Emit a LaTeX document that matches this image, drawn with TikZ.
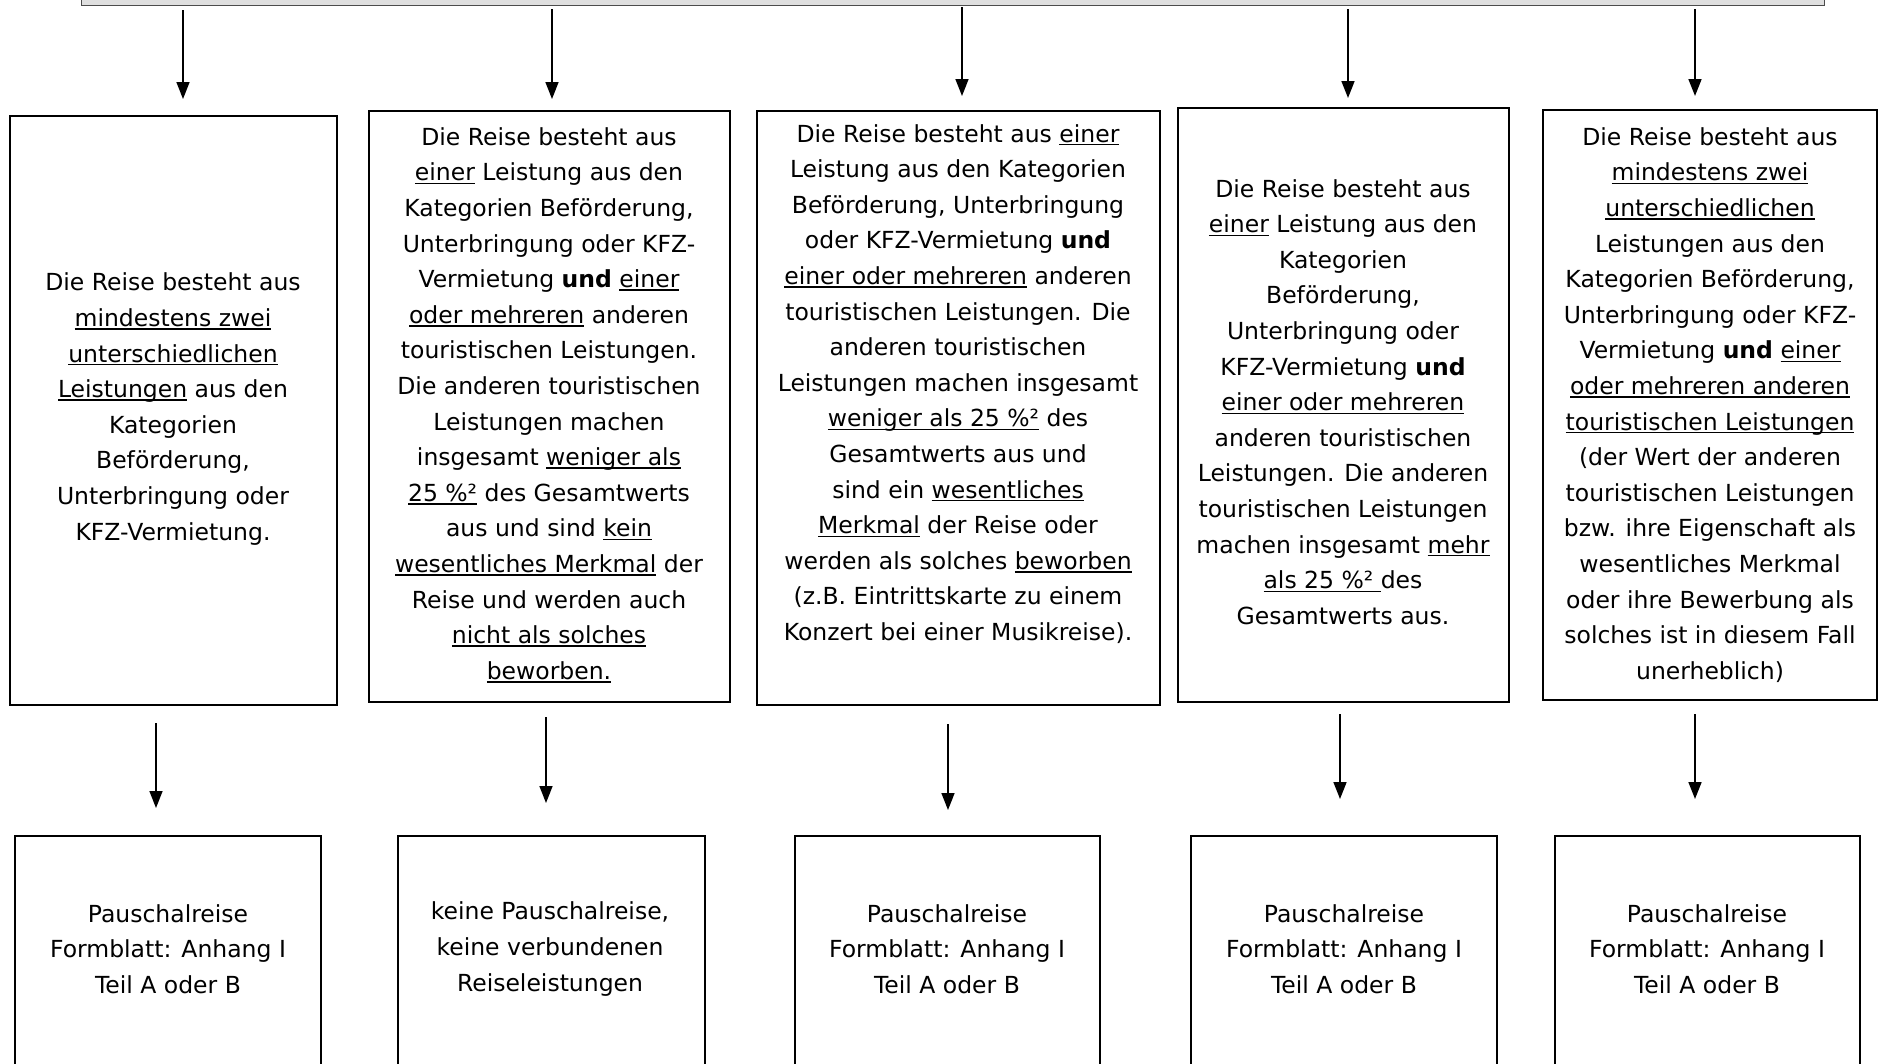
\documentclass[tikz,border=0pt]{standalone}
\usepackage{fontspec}
\setmainfont{DejaVu Sans}
\usetikzlibrary{arrows.meta,calc}
\newcommand\ulx[1]{\sbox0{#1}\rlap{\rule[-0.14em]{\wd0}{0.065em}}\usebox0}
\begin{document}
\begin{tikzpicture}[x=1pt,y=-1pt,
  box/.style={draw, line width=1.6pt, rectangle, inner sep=0pt, outer sep=0pt, anchor=north west},
  txt/.style={align=center, inner sep=0pt, font=\fontsize{23.5}{35.6}\selectfont},
  arr/.style={line width=1.6pt, -{Triangle[width=13pt,length=17pt]}}]
\useasboundingbox (0,0) rectangle (1879,1063);
\clip (0,0) rectangle (1879,1063);
\fill[white] (0,0) rectangle (1879,1063);

% top (cut off) box
\node[draw=black!70, fill=gray!25, line width=1.4pt, minimum width=1743, minimum height=80, inner sep=0pt, anchor=south west] (top) at (81,6) {};

% first row boxes
\node[box, minimum width=327, minimum height=589] (b1) at (10,116) {};
\node[box, minimum width=361, minimum height=591] (b2) at (369,111) {};
\node[box, minimum width=403, minimum height=594] (b3) at (757,111) {};
\node[box, minimum width=331, minimum height=594] (b4) at (1178,108) {};
\node[box, minimum width=334, minimum height=590] (b5) at (1543,110) {};

\node[txt] (t1) at (173,409) {Die Reise besteht aus\\
\ulx{mindestens zwei}\\
\ulx{unterschiedlichen}\\
\ulx{Leistungen} aus den\\
Kategorien\\
Beförderung,\\
Unterbringung oder\\
KFZ-Vermietung.};

\node[txt] (t2) at (549,405) {Die Reise besteht aus\\
\ulx{einer} Leistung aus den\\
Kategorien Beförderung,\\
Unterbringung oder KFZ-\\
Vermietung \textbf{und} \ulx{einer}\\
\ulx{oder mehreren} anderen\\
touristischen Leistungen.\\
Die anderen touristischen\\
Leistungen machen\\
insgesamt \ulx{weniger als}\\
\ulx{25 \%²} des Gesamtwerts\\
aus und sind \ulx{kein}\\
\ulx{wesentliches Merkmal} der\\
Reise und werden auch\\
\ulx{nicht als solches}\\
\ulx{beworben.}};

\node[txt] (t3) at (958,384) {Die Reise besteht aus \ulx{einer}\\
Leistung aus den Kategorien\\
Beförderung, Unterbringung\\
oder KFZ-Vermietung \textbf{und}\\
\ulx{einer oder mehreren} anderen\\
touristischen Leistungen. Die\\
anderen touristischen\\
Leistungen machen insgesamt\\
\ulx{weniger als 25 \%²} des\\
Gesamtwerts aus und\\
sind ein \ulx{wesentliches}\\
\ulx{Merkmal} der Reise oder\\
werden als solches \ulx{beworben}\\
(z.B. Eintrittskarte zu einem\\
Konzert bei einer Musikreise).};

\node[txt] (t4) at (1343,402) {Die Reise besteht aus\\
\ulx{einer} Leistung aus den\\
Kategorien\\
Beförderung,\\
Unterbringung oder\\
KFZ-Vermietung \textbf{und}\\
\ulx{einer oder mehreren}\\
anderen touristischen\\
Leistungen. Die anderen\\
touristischen Leistungen\\
machen insgesamt \ulx{mehr}\\
\ulx{als 25 \%²\ }des\\
Gesamtwerts aus.};

\node[txt] (t5) at (1710,405) {Die Reise besteht aus\\
\ulx{mindestens zwei}\\
\ulx{unterschiedlichen}\\
Leistungen aus den\\
Kategorien Beförderung,\\
Unterbringung oder KFZ-\\
Vermietung \textbf{und} \ulx{einer}\\
\ulx{oder mehreren anderen}\\
\ulx{touristischen Leistungen}\\
(der Wert der anderen\\
touristischen Leistungen\\
bzw. ihre Eigenschaft als\\
wesentliches Merkmal\\
oder ihre Bewerbung als\\
solches ist in diesem Fall\\
unerheblich)};

% bottom row boxes
\node[box, minimum width=306, minimum height=232] (c1) at (15,836) {};
\node[box, minimum width=307, minimum height=232] (c2) at (398,836) {};
\node[box, minimum width=305, minimum height=232] (c3) at (795,836) {};
\node[box, minimum width=306, minimum height=232] (c4) at (1191,836) {};
\node[box, minimum width=305, minimum height=232] (c5) at (1555,836) {};

\node[txt] (u1) at (168,949) {Pauschalreise\\Formblatt: Anhang I\\Teil A oder B};
\node[txt] (u2) at (550,949) {keine Pauschalreise,\\keine verbundenen\\Reiseleistungen};
\node[txt] (u3) at (947,949) {Pauschalreise\\Formblatt: Anhang I\\Teil A oder B};
\node[txt] (u4) at (1344,949) {Pauschalreise\\Formblatt: Anhang I\\Teil A oder B};
\node[txt] (u5) at (1707,949) {Pauschalreise\\Formblatt: Anhang I\\Teil A oder B};

% top arrows
\coordinate (s1) at (183,10);
\coordinate (s2) at (552,9);
\coordinate (s3) at (962,7);
\coordinate (s4) at (1348,9);
\coordinate (s5) at (1695,9);
\draw[arr, shorten >=17pt] (s1) -- (s1 |- b1.north);
\draw[arr, shorten >=12pt] (s2) -- (s2 |- b2.north);
\draw[arr, shorten >=15pt] (s3) -- (s3 |- b3.north);
\draw[arr, shorten >=10pt] (s4) -- (s4 |- b4.north);
\draw[arr, shorten >=14pt] (s5) -- (s5 |- b5.north);

% middle arrows
\coordinate (m1) at (156,723);
\coordinate (m2) at (546,717);
\coordinate (m3) at (948,724);
\coordinate (m4) at (1340,714);
\coordinate (m5) at (1695,714);
\draw[arr, shorten >=28pt] (m1) -- (m1 |- c1.north);
\draw[arr, shorten >=33pt] (m2) -- (m2 |- c2.north);
\draw[arr, shorten >=26pt] (m3) -- (m3 |- c3.north);
\draw[arr, shorten >=37pt] (m4) -- (m4 |- c4.north);
\draw[arr, shorten >=37pt] (m5) -- (m5 |- c5.north);
\end{tikzpicture}
\end{document}
